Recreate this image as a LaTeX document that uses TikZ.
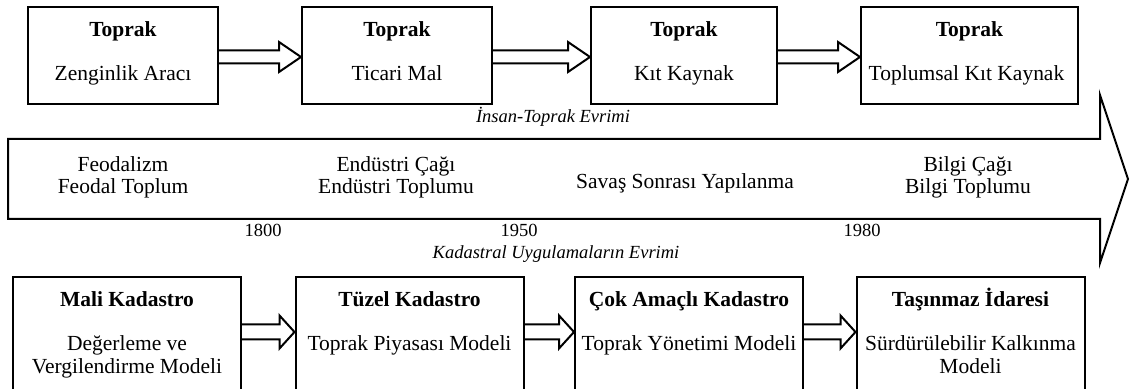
\documentclass[tikz,border=0pt]{standalone}
\usepackage{fontspec}
\setmainfont{Liberation Serif}
\usetikzlibrary{calc}
\newcommand{\blockarr}[6]{% #1 from, #2 to, #3 dy, #4 shaft half, #5 head half, #6 head length
  \draw[blockarrow] ($(#1.east)+(0,#3-#4)$) -- ($(#2.west)+(-#6,#3-#4)$)
    -- ($(#2.west)+(-#6,#3-#5)$) -- ($(#2.west)+(0,#3)$)
    -- ($(#2.west)+(-#6,#3+#5)$) -- ($(#2.west)+(-#6,#3+#4)$)
    -- ($(#1.east)+(0,#3+#4)$);
}
\begin{document}
\begin{tikzpicture}[x=0.5pt,y=-0.5pt,
  box/.style={draw, line width=1pt, inner sep=0pt},
  topbox/.style={box, minimum height=48.5pt},
  botbox/.style={box, minimum width=114pt, minimum height=61.5pt},
  maintext/.style={font=\fontsize{10.75pt}{11pt}\selectfont, inner sep=0pt, anchor=base, align=center},
  titletext/.style={font=\fontsize{10.75pt}{11pt}\selectfont\bfseries, inner sep=0pt, anchor=base, align=center},
  botsub/.style={font=\fontsize{10.75pt}{11.5pt}\selectfont, inner sep=0pt, anchor=base, align=center},
  notetext/.style={font=\fontsize{9.25pt}{11pt}\selectfont\itshape, inner sep=0pt, anchor=base},
  yeartext/.style={font=\fontsize{9.25pt}{11pt}\selectfont, inner sep=0pt, anchor=base},
  blockarrow/.style={draw, line width=1pt, line join=miter},
  bigarrow/.style={draw, line width=1pt, line join=miter},
]
\useasboundingbox (0,0) rectangle (1131,389);
\clip (0,0) rectangle (1131,389);

% top boxes
\node[topbox, minimum width=95pt]    (t1) at (123,55.5) {};
\node[topbox, minimum width=95pt]    (t2) at (397,55.5) {};
\node[topbox, minimum width=93pt]    (t3) at (684,55.5) {};
\node[topbox, minimum width=108.5pt] (t4) at (969.5,55.5) {};

\node[titletext] (t1a) at ($(t1.north)+(0,30.5)$) {Toprak};
\node[maintext]  (t1b) at ($(t1.north)+(0,75)$) {Zenginlik Aracı};
\node[titletext] (t2a) at ($(t2.north)+(0,30.5)$) {Toprak};
\node[maintext]  (t2b) at ($(t2.north)+(0,75)$) {Ticari Mal};
\node[titletext] (t3a) at ($(t3.north)+(0,30.5)$) {Toprak};
\node[maintext]  (t3b) at ($(t3.north)+(0,75)$) {Kıt Kaynak};
\node[titletext] (t4a) at ($(t4.north)+(0,30.5)$) {Toprak};
\node[maintext]  (t4b) at ($(t4.north)+(-3,75)$) {Toplumsal Kıt Kaynak};

\blockarr{t1}{t2}{1.5}{6.5}{15}{22}
\blockarr{t2}{t3}{1.5}{6.5}{15}{22}
\blockarr{t3}{t4}{1.5}{6.5}{15}{22}

\node[notetext] (lab1) at (553,122.5) {İnsan-Toprak Evrimi};

% big timeline arrow
\draw[bigarrow] (8,139) -- (1100,139) -- (1100,95) -- (1128,179) -- (1100,263)
  -- (1100,219) -- (8,219) -- cycle;

% (base anchor of a two-line node = baseline of its last line)
\node[maintext] (era1) at (123,194) {Feodalizm\\Feodal Toplum};
\node[maintext] (era2) at (396,194) {Endüstri Çağı\\Endüstri Toplumu};
\node[maintext] (era3) at (685,189) {Savaş Sonrası Yapılanma};
\node[maintext] (era4) at (968,194) {Bilgi Çağı\\Bilgi Toplumu};

\node[yeartext] (y1) at (263,237) {1800};
\node[yeartext] (y2) at (519,237) {1950};
\node[yeartext] (y3) at (862,237) {1980};

\node[notetext] (lab2) at (556,259) {Kadastral Uygulamaların Evrimi};

% bottom boxes
\node[botbox] (b1) at (127,338.5) {};
\node[botbox] (b2) at (409.5,338.5) {};
\node[botbox] (b3) at (689,338.5) {};
\node[botbox] (b4) at (970.5,338.5) {};

\node[titletext] (b1a) at ($(b1.north)+(0,31)$) {Mali Kadastro};
\node[botsub]    (b1b) at ($(b1.north)+(0,98)$) {Değerleme ve\\Vergilendirme Modeli};
\node[titletext] (b2a) at ($(b2.north)+(0,31)$) {Tüzel Kadastro};
\node[botsub]    (b2b) at ($(b2.north)+(0,75)$) {Toprak Piyasası Modeli};
\node[titletext] (b3a) at ($(b3.north)+(0,31)$) {Çok Amaçlı Kadastro};
\node[botsub]    (b3b) at ($(b3.north)+(0,75)$) {Toprak Yönetimi Modeli};
\node[titletext] (b4a) at ($(b4.north)+(0,31)$) {Taşınmaz İdaresi};
\node[botsub]    (b4b) at ($(b4.north)+(0,98)$) {Sürdürülebilir Kalkınma\\Modeli};

\blockarr{b1}{b2}{-6.5}{7.5}{16.5}{15}
\blockarr{b2}{b3}{-6.5}{7.5}{16.5}{15}
\blockarr{b3}{b4}{-6.5}{7.5}{16.5}{15}
\end{tikzpicture}
\end{document}
